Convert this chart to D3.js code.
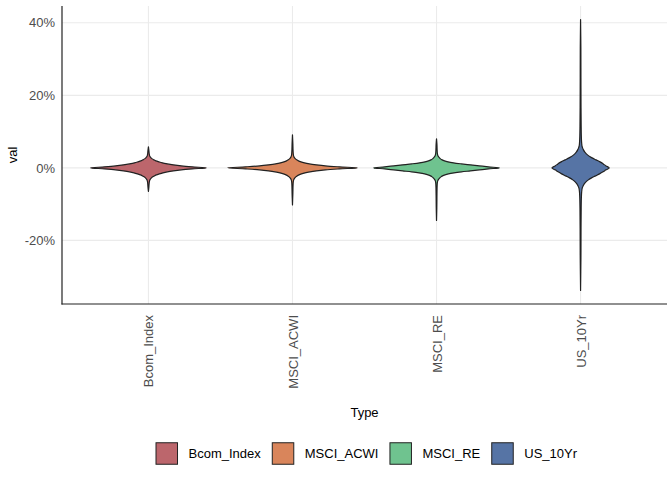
<!DOCTYPE html>
<html>
<head>
<meta charset="utf-8">
<script src="https://cdn.jsdelivr.net/npm/d3@7"></script>
<style>
  html, body { margin: 0; padding: 0; background: #fff; }
  svg text { font-family: "Liberation Sans", Arial, Helvetica, sans-serif; }
</style>
</head>
<body>
<svg id="chart" width="672" height="480"></svg>
<script>
// ---- Data ----
const categories = ["Bcom_Index", "MSCI_ACWI", "MSCI_RE", "US_10Yr"];
const colors = ["#bc666c", "#d9855b", "#6fc38f", "#5674a5"];
const yTicks = [-0.2, 0, 0.2, 0.4];

// violin profiles: return value and relative density (top -> bottom)
const bcomVal = [0.058, 0.047, 0.0386, 0.0331, 0.0303, 0.0276, 0.0248, 0.0221, 0.0193, 0.0166, 0.0138, 0.011, 0.0083, 0.0055, 0.0028, 0,
  -0.0028, -0.0055, -0.0083, -0.011, -0.0138, -0.0166, -0.0193, -0.0221, -0.0248, -0.0276, -0.0303, -0.0331, -0.0386, -0.047, -0.055, -0.065];
const bcomDen = [0, 0.5, 0.8, 1.2, 1.8, 2.6, 3.8, 5.5, 7.5, 10.5, 14, 19, 25, 33, 44, 58,
  44, 33, 25, 19, 14.5, 11, 8, 6, 4.3, 3, 2.1, 1.4, 0.9, 0.6, 0.4, 0];

const acwiVal = [0.091, 0.066, 0.05, 0.0386, 0.0331, 0.0303, 0.0276, 0.0248, 0.0221, 0.0193, 0.0166, 0.0138, 0.011, 0.0083, 0.0055, 0.0028, 0,
  -0.0028, -0.0055, -0.0083, -0.011, -0.0138, -0.0166, -0.0193, -0.0221, -0.0248, -0.0276, -0.0303, -0.0331, -0.0386, -0.05, -0.07, -0.102];
const acwiDen = [0, 0.4, 0.55, 0.8, 1.1, 1.5, 2.1, 3, 4.2, 6, 8.5, 12, 17, 24, 33, 47, 65,
  47, 33, 24, 17.5, 12.5, 9, 6.5, 4.6, 3.3, 2.4, 1.7, 1.2, 0.8, 0.55, 0.4, 0];

const reVal = [0.080, 0.0635, 0.0497, 0.0386, 0.0331, 0.0303, 0.0276, 0.0248, 0.0221, 0.0193, 0.0166, 0.0138, 0.011, 0.0083, 0.0055, 0.0028, 0,
  -0.0028, -0.0055, -0.0083, -0.011, -0.0138, -0.0166, -0.0193, -0.0221, -0.0248, -0.0276, -0.0303, -0.0331, -0.0359, -0.0414, -0.0552, -0.0828, -0.110, -0.145];
const reDen = [0, 0.45, 0.6, 0.9, 1.4, 2.1, 3, 4, 5.6, 8, 11.5, 17, 25, 34, 43, 52, 63,
  52, 43, 34, 25, 17.5, 12, 8.5, 6, 4.4, 3.3, 2.4, 1.7, 1.2, 0.8, 0.55, 0.4, 0.3, 0];

const usVal = [0.409, 0.331, 0.2483, 0.1655, 0.1131, 0.0883, 0.0717, 0.0607, 0.0552, 0.0497, 0.0441, 0.0386, 0.0331, 0.0276, 0.0221, 0.0166, 0.011, 0.0055, 0,
  -0.0055, -0.011, -0.0166, -0.0221, -0.0276, -0.0331, -0.0386, -0.0441, -0.0497, -0.0552, -0.0662, -0.0828, -0.1104, -0.1655, -0.2483, -0.338];
const usDen = [0, 0.3, 0.35, 0.45, 0.6, 0.75, 1, 1.4, 2, 2.9, 4.1, 5.8, 8.2, 11.5, 15.5, 19.5, 22.7, 25.5, 28.7,
  25.5, 22.5, 19, 15, 11, 7.8, 5.4, 3.7, 2.5, 1.7, 1.1, 0.8, 0.6, 0.45, 0.35, 0];

const profiles = [
  { vals: bcomVal, dens: bcomDen },
  { vals: acwiVal, dens: acwiDen },
  { vals: reVal, dens: reDen },
  { vals: usVal, dens: usDen }
];

// ---- Layout ----
const svg = d3.select("#chart");
const panel = { left: 62, right: 667, top: 6, bottom: 304 };

const allVals = profiles.flatMap(p => p.vals);
const [vmin, vmax] = d3.extent(allVals);
const pad = (vmax - vmin) * 0.05;
const y = d3.scaleLinear().domain([vmin - pad, vmax + pad]).range([panel.bottom, panel.top]);
const x = d3.scalePoint().domain(categories).range([panel.left, panel.right]).padding(0.6);

const maxDen = d3.max(profiles.flatMap(p => p.dens));
const w = d3.scaleLinear().domain([0, maxDen]).range([0, x.step() * 0.45]);

// grid
const grid = svg.append("g");
grid.selectAll("line.h").data(yTicks).join("line")
  .attr("x1", panel.left).attr("x2", panel.right)
  .attr("y1", d => y(d)).attr("y2", d => y(d))
  .attr("stroke", "#ebebeb").attr("stroke-width", 1.07);
grid.selectAll("line.v").data(categories).join("line")
  .attr("x1", d => x(d)).attr("x2", d => x(d))
  .attr("y1", panel.top).attr("y2", panel.bottom)
  .attr("stroke", "#ebebeb").attr("stroke-width", 1.07);

// violins
profiles.forEach((p, i) => {
  const cx = x(categories[i]);
  const pts = p.vals.map((v, j) => ({ v, d: p.dens[j] }));
  const area = d3.area()
    .y(d => y(d.v))
    .x0(d => cx - w(d.d))
    .x1(d => cx + w(d.d))
    .curve(d3.curveCatmullRom.alpha(0.5));
  svg.append("path")
    .datum(pts)
    .attr("d", area)
    .attr("fill", colors[i])
    .attr("stroke", "#222")
    .attr("stroke-width", 1.2)
    .attr("stroke-linejoin", "round");
});

// axes
const pct = d3.format(".0%");
const yAxis = d3.axisLeft(y).tickValues(yTicks).tickSize(0).tickPadding(7)
  .tickFormat(d => pct(d).replace("\u2212", "-"));
const gy = svg.append("g").attr("transform", `translate(${panel.left},0)`).call(yAxis);
gy.select(".domain").remove();
gy.selectAll("text").attr("font-size", 13).attr("fill", "#4d4d4d")
  .attr("font-family", "Liberation Sans, Arial, sans-serif");

const xAxis = d3.axisBottom(x).tickSize(0).tickPadding(0);
const gx = svg.append("g").attr("transform", `translate(0,${panel.bottom})`).call(xAxis);
gx.select(".domain").remove();
gx.selectAll("text")
  .attr("font-size", 13).attr("fill", "#4d4d4d")
  .attr("font-family", "Liberation Sans, Arial, sans-serif")
  .attr("text-anchor", "end")
  .attr("transform", "translate(0,11) rotate(-90)")
  .attr("x", 0).attr("y", 0).attr("dy", "0.35em");

// axis lines
svg.append("line").attr("x1", panel.left).attr("x2", panel.left)
  .attr("y1", panel.top).attr("y2", panel.bottom + 0.5)
  .attr("stroke", "#222").attr("stroke-width", 1.2);
svg.append("line").attr("x1", panel.left - 0.5).attr("x2", panel.right)
  .attr("y1", panel.bottom).attr("y2", panel.bottom)
  .attr("stroke", "#222").attr("stroke-width", 1.2);

// axis titles
const pcx = (panel.left + panel.right) / 2;
svg.append("text").text("Type").attr("x", pcx).attr("y", 417)
  .attr("text-anchor", "middle").attr("font-size", 13).attr("fill", "#000");
svg.append("text").text("val")
  .attr("transform", `translate(17,${(panel.top + panel.bottom) / 2}) rotate(-90)`)
  .attr("text-anchor", "middle").attr("font-size", 13).attr("fill", "#000");

// legend
const leg = svg.append("g");
const keySize = 21.5, keyGap = 11, itemGap = 11.5, legY = 453.5;
const items = categories.map((c, i) => {
  const g = leg.append("g");
  g.append("rect").attr("width", keySize).attr("height", keySize)
    .attr("y", legY - keySize / 2)
    .attr("fill", colors[i]).attr("stroke", "#222").attr("stroke-width", 1);
  const t = g.append("text").text(c).attr("x", keySize + keyGap).attr("y", legY)
    .attr("dy", "0.35em").attr("font-size", 13).attr("fill", "#000");
  return { g, width: keySize + keyGap + t.node().getComputedTextLength() };
});
const total = d3.sum(items, d => d.width) + itemGap * (items.length - 1);
let cursor = pcx + 2 - total / 2;
items.forEach(it => {
  it.g.attr("transform", `translate(${cursor},0)`);
  cursor += it.width + itemGap;
});
</script>
</body>
</html>
